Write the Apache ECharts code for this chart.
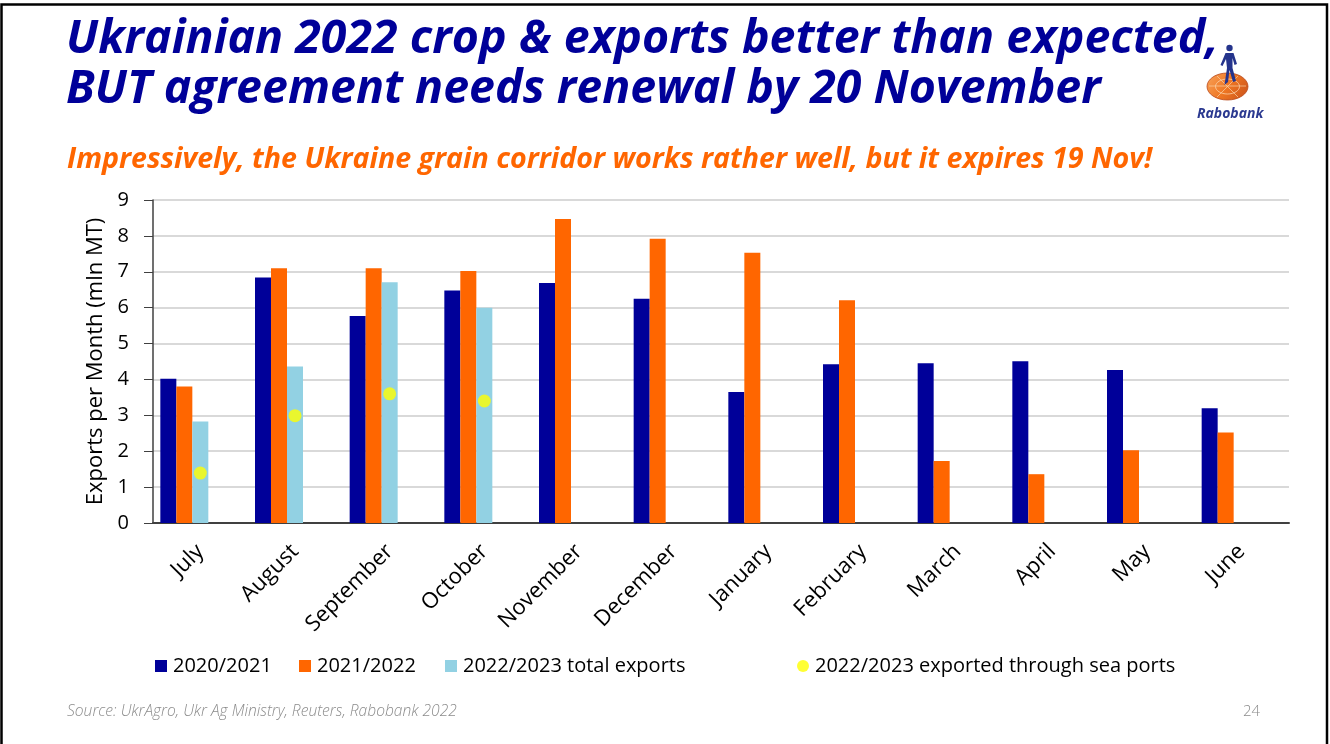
<!DOCTYPE html>
<html>
<head>
<meta charset="utf-8">
<script src="https://cdn.jsdelivr.net/npm/echarts@6/dist/echarts.min.js"></script>
<style>
  html, body { margin: 0; padding: 0; background: #fff; }
  #chart { width: 1330px; height: 744px; }
</style>
</head>
<body>
<div id="chart"></div>
<script>
// Monthly Ukrainian grain exports, mln MT
const months = ['July', 'August', 'September', 'October', 'November', 'December',
                'January', 'February', 'March', 'April', 'May', 'June'];
const exports2020 = [4.02, 6.84, 5.77, 6.48, 6.69, 6.25, 3.65, 4.42, 4.45, 4.51, 4.26, 3.20];
const exports2021 = [3.80, 7.10, 7.10, 7.02, 8.47, 7.92, 7.53, 6.21, 1.73, 1.36, 2.03, 2.52];
const total2022 = [2.83, 4.36, 6.71, 6.00, null, null, null, null, null, null, null, null];
const seaports2022 = [1.39, 2.99, 3.60, 3.40, null, null, null, null, null, null, null, null];
const yTicks = { min: 0, max: 9, step: 1 };

const NAVY = '#000099';
const ORANGE = '#FF6600';
const LIGHT = '#92D1E3';
const YELLOW = '#FFFF00';
const FONT = '"Open Sans", Lato, sans-serif';

const chart = echarts.init(document.getElementById('chart'), null, { renderer: 'canvas' });

const barBase = { type: 'bar', barWidth: 16, barGap: '0%' };

// one legend block per entry so each sits at its own x position
const legendEntries = [
  { name: '2020/2021', icon: 'rect', left: 150 },
  { name: '2021/2022', icon: 'rect', left: 294 },
  { name: '2022/2023 total exports', icon: 'rect', left: 440 },
  { name: '2022/2023 exported through sea ports', icon: 'circle', left: 792 }
];
const legends = legendEntries.map(e => ({
  data: [{ name: e.name, icon: e.icon }],
  left: e.left, top: 651,
  itemWidth: 12, itemHeight: 12, itemGap: 0,
  textStyle: { fontFamily: FONT, fontSize: 20, color: '#000', padding: [0, 0, 0, 1] }
}));

chart.setOption({
  backgroundColor: '#ffffff',
  animation: false,
  textStyle: { fontFamily: FONT },
  grid: { left: 153, right: 41, top: 200, bottom: 221, containLabel: false },
  legend: legends,
  xAxis: {
    type: 'category',
    data: months,
    axisLine: { lineStyle: { color: '#404040', width: 2 } },
    axisTick: { show: false },
    axisLabel: { rotate: 45, margin: 25, fontSize: 22, color: '#000', fontFamily: FONT },
    splitLine: { show: false }
  },
  yAxis: {
    type: 'value',
    min: yTicks.min, max: yTicks.max, interval: yTicks.step,
    name: 'Exports per Month (mln MT)',
    nameLocation: 'middle',
    nameGap: 46,
    nameTextStyle: { fontSize: 22, color: '#000', fontFamily: FONT },
    axisLine: { show: true, lineStyle: { color: '#404040', width: 1.5 } },
    axisTick: { show: true, inside: false, length: 9, lineStyle: { color: '#404040' } },
    axisLabel: { margin: 24, fontSize: 20, color: '#000', fontFamily: FONT },
    splitLine: { lineStyle: { color: '#D9D9D9', width: 2 } }
  },
  series: [
    Object.assign({}, barBase, { name: '2020/2021', data: exports2020, itemStyle: { color: NAVY } }),
    Object.assign({}, barBase, { name: '2021/2022', data: exports2021, itemStyle: { color: ORANGE } }),
    Object.assign({}, barBase, { name: '2022/2023 total exports', data: total2022, itemStyle: { color: LIGHT } }),
    // two empty slots so each cluster keeps its original spacing
    Object.assign({}, barBase, { name: 'slot-a', data: [] }),
    Object.assign({}, barBase, { name: 'slot-b', data: [] }),
    {
      type: 'scatter',
      name: '2022/2023 exported through sea ports',
      data: seaports2022,
      symbol: 'circle',
      symbolSize: 13,
      itemStyle: { color: YELLOW },
      z: 5
    }
  ],
  graphic: [
    // slide frame
    { type: 'rect', shape: { x: 1.5, y: 4.5, width: 1325.5, height: 760 },
      style: { fill: 'none', stroke: '#000', lineWidth: 2.5 }, z: 100 },
    // logo: disc
    { type: 'ellipse', shape: { cx: 1227.5, cy: 86.5, rx: 20.5, ry: 13.5 },
      style: { fill: new echarts.graphic.LinearGradient(0, 0, 1, 1, [
                 { offset: 0, color: '#F9A35A' }, { offset: 0.5, color: '#EE7623' }, { offset: 1, color: '#C8501A' }]),
               stroke: '#B8471A', lineWidth: 0.8 } },
    { type: 'ellipse', shape: { cx: 1227.5, cy: 86.5, rx: 12, ry: 7.5 },
      style: { fill: 'none', stroke: '#FBD2A8', lineWidth: 0.8 } },
    { type: 'polyline', shape: { points: [[1209, 86], [1246, 86]] },
      style: { stroke: '#FBD2A8', lineWidth: 0.7 } },
    { type: 'polyline', shape: { points: [[1217, 76], [1238, 97]] },
      style: { stroke: '#FBD2A8', lineWidth: 0.7 } },
    { type: 'polyline', shape: { points: [[1238, 76], [1217, 97]] },
      style: { stroke: '#FBD2A8', lineWidth: 0.7 } },
    // logo: figure
    { type: 'circle', shape: { cx: 1229.5, cy: 48, r: 3.2 }, style: { fill: '#25348C' } },
    { type: 'polygon', shape: { points: [
        [1225.5, 53], [1233.5, 53], [1237, 64], [1234.5, 65], [1232.5, 58], [1232.5, 68],
        [1236, 81], [1233, 82], [1229.5, 70], [1228, 82], [1224.5, 85], [1227, 68],
        [1226, 59], [1222.5, 66], [1220.5, 65]] },
      style: { fill: '#25348C' } },
    { type: 'text', left: 1197, top: 107,
      style: { text: 'Rabobank', font: 'italic bold 14px ' + FONT, fill: '#2B3990' } },
    // headline
    { type: 'text', left: 66, top: 16,
      style: { text: 'Ukrainian 2022 crop & exports better than expected,',
               font: 'italic bold 46.5px ' + FONT, fill: '#000099' } },
    { type: 'text', left: 66, top: 66,
      style: { text: 'BUT agreement needs renewal by 20 November',
               font: 'italic bold 46.5px ' + FONT, fill: '#000099' } },
    // sub-headline
    { type: 'text', left: 67, top: 145,
      style: { text: 'Impressively, the Ukraine grain corridor works rather well, but it expires 19 Nov!',
               font: 'italic bold 28.6px ' + FONT, fill: '#FF6600' } },
    // footer
    { type: 'text', left: 67, top: 704,
      style: { text: 'Source: UkrAgro, Ukr Ag Ministry, Reuters, Rabobank 2022',
               font: 'italic 300 15.6px ' + FONT, fill: '#8C8C8C' } },
    { type: 'text', left: 1243, top: 704,
      style: { text: '24', font: '300 15px ' + FONT, fill: '#8C8C8C' } }
  ]
});
</script>
</body>
</html>
